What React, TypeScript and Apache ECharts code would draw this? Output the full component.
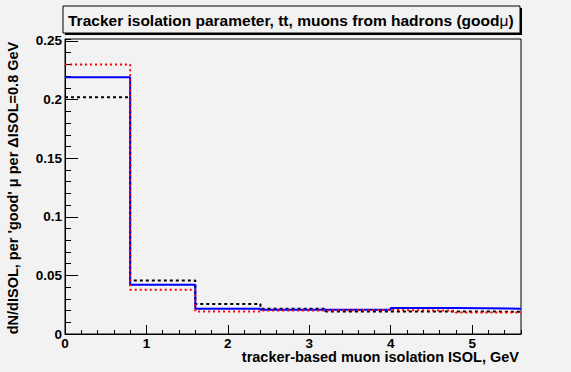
import React, { useEffect, useRef } from "react";
import * as echarts from "echarts";

// Bin edges of the ISOL histogram (GeV) and per-bin contents of the three samples
const binEdges = [0, 0.8, 1.6, 2.4, 3.2, 4.0, 4.8, 5.6];
const blueValues = [0.219, 0.042, 0.0216, 0.0207, 0.0207, 0.0222, 0.0216];
const redValues = [0.230, 0.0378, 0.0193, 0.0201, 0.0205, 0.0199, 0.0184];
const blackValues = [0.202, 0.0457, 0.0256, 0.0216, 0.0193, 0.0193, 0.019];

const titleText = "Tracker isolation parameter, tt, muons from hadrons (good";
const yAxisTitle = "dN/dISOL, per 'good' \u03bc per \u0394ISOL=0.8 GeV";
const xAxisTitle = "tracker-based muon isolation ISOL, GeV";

const BG = "#f2f2f2";
const FONT = "'Liberation Sans', Arial, Helvetica, sans-serif";

// Turn bin contents into step points: left edge of each bin, plus the final right edge
function toSteps(values: number[]): number[][] {
  const pts = values.map((v, i) => [binEdges[i], v]);
  pts.push([binEdges[binEdges.length - 1], values[values.length - 1]]);
  return pts;
}

const labelStyle = {
  color: "#000",
  fontWeight: "bold" as const,
  fontSize: 13.5,
  lineHeight: 12,
  fontFamily: FONT,
};

export default function App() {
  const ref = useRef<HTMLDivElement>(null);

  useEffect(() => {
    if (!ref.current) return;
    const chart = echarts.init(ref.current, null, { renderer: "svg" });
    const xMax = binEdges[binEdges.length - 1];
    const yMax = 0.2517;

    chart.setOption({
      animation: false,
      backgroundColor: BG,
      grid: {
        left: 65,
        right: 50,
        top: 39,
        bottom: 38,
        show: true,
        borderColor: "#000",
        borderWidth: 1,
        backgroundColor: BG,
      },
      xAxis: [
        {
          type: "value",
          min: 0,
          max: xMax,
          interval: 1,
          position: "bottom",
          axisLine: { show: true, onZero: false, lineStyle: { color: "#000", width: 1 } },
          axisTick: { show: true, inside: true, length: 9, lineStyle: { color: "#000" } },
          axisLabel: { ...labelStyle, margin: 3, showMaxLabel: false },
          splitLine: { show: false },
        },
        {
          type: "value",
          min: 0,
          max: xMax,
          interval: 0.2,
          position: "bottom",
          axisLine: { show: false, onZero: false },
          axisTick: { show: true, inside: true, length: 4, lineStyle: { color: "#000" } },
          axisLabel: { show: false },
          splitLine: { show: false },
        },
      ],
      yAxis: [
        {
          type: "value",
          min: 0,
          max: yMax,
          interval: 0.05,
          position: "left",
          axisLine: { show: true, onZero: false, lineStyle: { color: "#000", width: 1 } },
          axisTick: { show: true, inside: true, length: 13, lineStyle: { color: "#000" } },
          axisLabel: { ...labelStyle, margin: 3, showMaxLabel: false },
          splitLine: { show: false },
        },
        {
          type: "value",
          min: 0,
          max: yMax,
          interval: 0.01,
          position: "left",
          axisLine: { show: false, onZero: false },
          axisTick: { show: true, inside: true, length: 6, lineStyle: { color: "#000" } },
          axisLabel: { show: false },
          splitLine: { show: false },
        },
      ],
      series: [
        {
          name: "black",
          type: "line",
          step: "end",
          symbol: "none",
          data: toSteps(blackValues),
          lineStyle: { color: "#000", width: 2, type: [3, 3] },
        },
        {
          name: "blue",
          type: "line",
          step: "end",
          symbol: "none",
          data: toSteps(blueValues),
          lineStyle: { color: "#0000ff", width: 2, type: "solid" },
        },
        {
          name: "red",
          type: "line",
          step: "end",
          symbol: "none",
          data: toSteps(redValues),
          lineStyle: { color: "#ff0000", width: 2, type: [2, 3] },
        },
      ],
      graphic: [
        // title pave with its shadow
        { type: "rect", shape: { x: 65, y: 8, width: 457, height: 27 }, style: { fill: "#000" } },
        {
          type: "rect",
          shape: { x: 63, y: 6, width: 457, height: 27 },
          style: { fill: BG, stroke: "#000", lineWidth: 1 },
        },
        {
          type: "text",
          x: 68,
          y: 20,
          style: {
            text: "{b|" + titleText + "}{m|\u03bc}{b|)}",
            verticalAlign: "middle",
            rich: {
              b: { fontFamily: FONT, fontWeight: "bold", fontSize: 15.5, fill: "#000" },
              m: { fontFamily: FONT, fontWeight: "normal", fontSize: 15.5, fill: "#000" },
            },
          },
        },
        {
          type: "text",
          x: 13,
          y: 188,
          rotation: Math.PI / 2,
          style: {
            text: yAxisTitle,
            align: "center",
            verticalAlign: "middle",
            fontFamily: FONT,
            fontWeight: "bold",
            fontSize: 14.5,
            fill: "#000",
          },
        },
        {
          type: "text",
          x: 519,
          y: 357,
          style: {
            text: xAxisTitle,
            align: "right",
            verticalAlign: "middle",
            fontFamily: FONT,
            fontWeight: "bold",
            fontSize: 14.5,
            lineHeight: 14,
            fill: "#000",
          },
        },
      ],
    });

    return () => chart.dispose();
  }, []);

  return (
    <div
      ref={ref}
      style={{ position: "absolute", left: 0, top: 0, width: 571, height: 372 }}
    />
  );
}
